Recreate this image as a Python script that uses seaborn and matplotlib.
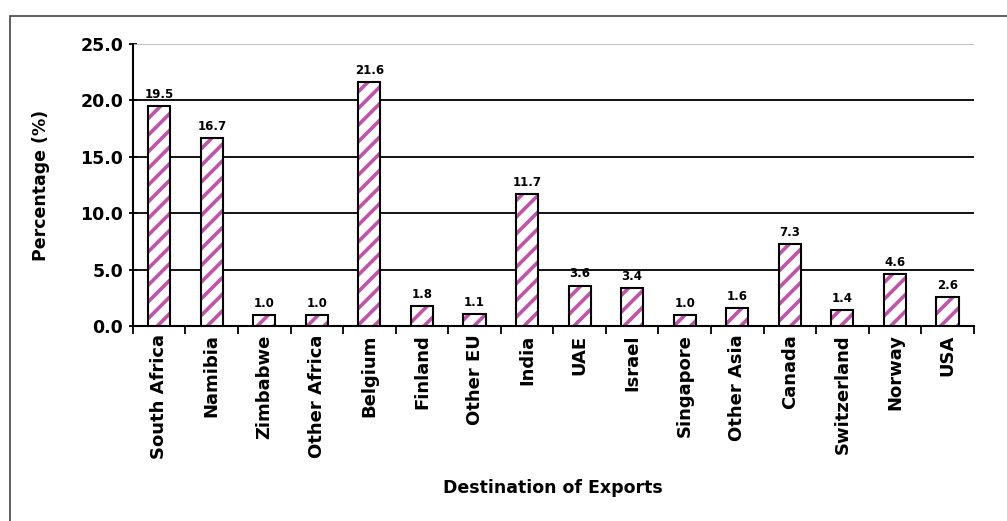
import matplotlib
matplotlib.use('Agg')
import matplotlib.pyplot as plt
import seaborn as sns
import pandas as pd
from matplotlib.patches import Rectangle

destinations = ['South Africa', 'Namibia', 'Zimbabwe', 'Other Africa', 'Belgium', 'Finland',
                'Other EU', 'India', 'UAE', 'Israel', 'Singapore', 'Other Asia', 'Canada',
                'Switzerland', 'Norway', 'USA']
percentages = [19.5, 16.7, 1.0, 1.0, 21.6, 1.8, 1.1, 11.7, 3.6, 3.4, 1.0, 1.6, 7.3, 1.4, 4.6, 2.6]
y_ticks = [0, 5, 10, 15, 20, 25]

df = pd.DataFrame({'dest': destinations, 'pct': percentages})

sns.set_style('white')
plt.rcParams['font.family'] = ['DejaVu Sans']
plt.rcParams['hatch.linewidth'] = 2.6
plt.rcParams['text.color'] = 'black'
plt.rcParams['axes.labelcolor'] = 'black'
plt.rcParams['xtick.color'] = 'black'
plt.rcParams['ytick.color'] = 'black'

fig = plt.figure(figsize=(10.07, 5.21), dpi=100)
ax = fig.add_axes([0.132, 0.374, 0.835, 0.5415])

# outer frame of the chart area
fig.patches.append(Rectangle((0.010, -0.1), 1.2, 1.069, transform=fig.transFigure,
                             fill=False, edgecolor='#444444', linewidth=1.2))

# hatched fill
sns.barplot(data=df, x='dest', y='pct', ax=ax, color='white', width=0.42,
            edgecolor='#C252AA', linewidth=0, hatch='//', zorder=3, errorbar=None)
# black outline
sns.barplot(data=df, x='dest', y='pct', ax=ax, fill=False, width=0.42,
            edgecolor='black', linewidth=1.5, zorder=4, errorbar=None)

for i, v in enumerate(percentages):
    ax.text(i, v + 0.45, f'{v:.1f}', ha='center', va='bottom', fontsize=8.5,
            fontweight='bold', zorder=5)

ax.set_ylim(0, 25)
ax.set_xlim(-0.5, len(destinations) - 0.5)
ax.set_yticks(y_ticks)
ax.set_yticklabels([f'{t:.1f}' for t in y_ticks], fontsize=12.5, fontweight='bold')
for t in y_ticks[1:-1]:
    ax.axhline(t, color='black', linewidth=1.3, zorder=1)
ax.axhline(25, color='#bbbbbb', linewidth=1.3, zorder=1)

ax.set_xticks(range(len(destinations)))
ax.set_xticklabels(destinations, rotation=90, fontsize=13, fontweight='bold')
ax.tick_params(axis='x', length=0, pad=6)
ax.set_xticks([i - 0.5 for i in range(len(destinations) + 1)], minor=True)
ax.tick_params(axis='x', which='minor', length=6, width=1.3, direction='out', bottom=True)
ax.tick_params(axis='y', length=6, width=1.3, direction='inout', left=True, pad=4)

for s in ['top', 'right']:
    ax.spines[s].set_visible(False)
for s in ['left', 'bottom']:
    ax.spines[s].set_color('black')
    ax.spines[s].set_linewidth(1.5)

ax.set_xlabel('Destination of Exports', fontsize=12.5, fontweight='bold', labelpad=14)
ax.set_ylabel('Percentage (%)', fontsize=12.5, fontweight='bold', labelpad=22)

fig.savefig('out.png', dpi=100)
